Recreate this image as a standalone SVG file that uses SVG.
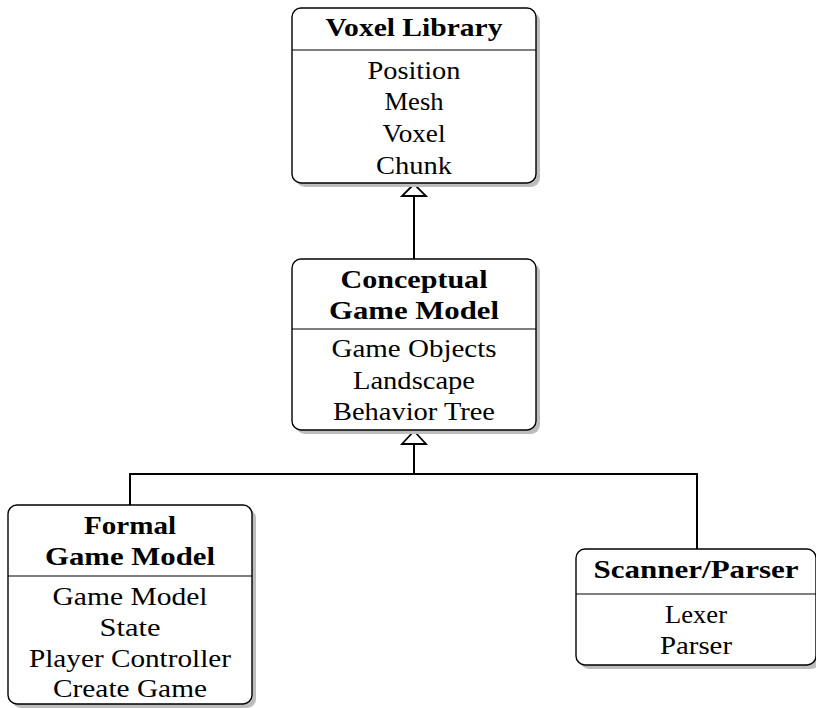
<svg xmlns="http://www.w3.org/2000/svg" width="816" height="708" viewBox="0 0 816 708">
<style>
.box{fill:#fff;stroke:#000;stroke-width:1.4}
.sh{fill:#bdbdbd}
.div{stroke:#000;stroke-width:1.2}
.t{font-family:'Liberation Serif','DejaVu Serif','Times New Roman',serif;font-size:25px;text-anchor:middle;fill:#000}
.b{font-weight:bold}
.conn{fill:none;stroke:#000;stroke-width:2}
.head{fill:#fff;stroke:#000;stroke-width:1.8;stroke-linejoin:miter}
</style>
<rect width="816" height="708" fill="#fff"/>
<g id="connectors">
<path class="conn" d="M414,196 V259"/>
<path class="conn" d="M130,505 V474 H697 V549 M414,474 V444"/>
<polygon class="head" points="414,184 402,196 426,196"/>
<polygon class="head" points="414,431 402,444 426,444"/>
</g>
<g id="voxel-library">
<rect class="sh" x="296" y="12" width="244" height="175" rx="9"/>
<rect class="box" x="292" y="8" width="244" height="175" rx="9"/>
<line class="div" x1="292" y1="50" x2="536" y2="50"/>
<text class="t b" x="414" y="36" textLength="177" lengthAdjust="spacingAndGlyphs">Voxel Library</text>
<text class="t" x="414" y="79" textLength="93" lengthAdjust="spacingAndGlyphs">Position</text>
<text class="t" x="414" y="110" textLength="59" lengthAdjust="spacingAndGlyphs">Mesh</text>
<text class="t" x="414" y="142" textLength="63" lengthAdjust="spacingAndGlyphs">Voxel</text>
<text class="t" x="414" y="174" textLength="76" lengthAdjust="spacingAndGlyphs">Chunk</text>
</g>
<g id="conceptual-game-model">
<rect class="sh" x="296" y="263" width="244" height="171" rx="9"/>
<rect class="box" x="292" y="259" width="244" height="171" rx="9"/>
<line class="div" x1="292" y1="329" x2="536" y2="329"/>
<text class="t b" x="414" y="288" textLength="147" lengthAdjust="spacingAndGlyphs">Conceptual</text>
<text class="t b" x="414" y="319" textLength="170" lengthAdjust="spacingAndGlyphs">Game Model</text>
<text class="t" x="414" y="357" textLength="165" lengthAdjust="spacingAndGlyphs">Game Objects</text>
<text class="t" x="414" y="389" textLength="122" lengthAdjust="spacingAndGlyphs">Landscape</text>
<text class="t" x="414" y="420" textLength="162" lengthAdjust="spacingAndGlyphs">Behavior Tree</text>
</g>
<g id="formal-game-model">
<rect class="sh" x="12" y="509" width="244" height="199" rx="9"/>
<rect class="box" x="8" y="505" width="244" height="199" rx="9"/>
<line class="div" x1="8" y1="576" x2="252" y2="576"/>
<text class="t b" x="130" y="534" textLength="92" lengthAdjust="spacingAndGlyphs">Formal</text>
<text class="t b" x="130" y="565" textLength="170" lengthAdjust="spacingAndGlyphs">Game Model</text>
<text class="t" x="130" y="605" textLength="155" lengthAdjust="spacingAndGlyphs">Game Model</text>
<text class="t" x="130" y="636" textLength="61" lengthAdjust="spacingAndGlyphs">State</text>
<text class="t" x="130" y="667" textLength="202" lengthAdjust="spacingAndGlyphs">Player Controller</text>
<text class="t" x="130" y="697" textLength="154" lengthAdjust="spacingAndGlyphs">Create Game</text>
</g>
<g id="scanner-parser">
<rect class="sh" x="580" y="553" width="240" height="116" rx="9"/>
<rect class="box" x="576" y="549" width="240" height="116" rx="9"/>
<line class="div" x1="576" y1="594" x2="816" y2="594"/>
<text class="t b" x="696" y="578" textLength="205" lengthAdjust="spacingAndGlyphs">Scanner/Parser</text>
<text class="t" x="696" y="623" textLength="62" lengthAdjust="spacingAndGlyphs">Lexer</text>
<text class="t" x="696" y="654" textLength="72" lengthAdjust="spacingAndGlyphs">Parser</text>
</g>
</svg>
